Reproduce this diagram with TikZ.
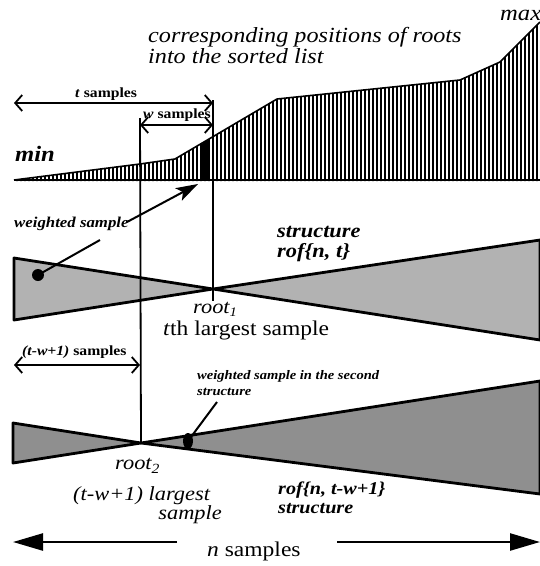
\documentclass[tikz,border=0pt]{standalone}
\usepackage{fontspec}
\setmainfont[FakeStretch=1.12]{Liberation Serif}
\usetikzlibrary{arrows.meta}
\begin{document}
\begin{tikzpicture}[x=1pt,y=-1pt,
  lbl/.style={inner sep=0pt, anchor=base west},
  lble/.style={inner sep=0pt, anchor=base east},
  outline/.style={line width=2.8pt, line join=round},
  fillA/.style={fill=black!30},
  fillB/.style={fill=black!44},
  vline/.style={line width=1.8pt},
  dim/.style={line width=1.8pt, {Straight Barb[length=7pt,width=16pt]}-{Straight Barb[length=7pt,width=16pt]}},
  bigarrow/.style={line width=2.4pt, -{Triangle[length=30pt,width=17pt]}},
  pointer/.style={line width=2pt, -{Stealth[length=22pt,width=14pt,inset=5pt]}},
  plain/.style={line width=2pt}]
\useasboundingbox (0,0) rectangle (540,566);

% ---------- top chart: sorted list ----------
\begin{scope}
  \clip (14,180) -- (140,164) -- (175,159) -- (277,99) -- (460,80) -- (500,62) -- (540,22) -- (540,181) -- (14,181) -- cycle;
  \foreach \x in {17,21,...,540} \draw[line width=1.8pt] (\x,0) -- (\x,182);
\end{scope}
\draw[line width=1.6pt, line join=round] (14,180) -- (140,164) -- (175,159) -- (277,99) -- (460,80) -- (500,62) -- (540,22);
\draw[line width=2.6pt] (14,180) -- (540,180);
\fill (200,180) -- (200,145) -- (208,140) -- (208,180) -- cycle;

% ---------- coordinates ----------
\coordinate (r1) at (213,289);
\coordinate (r2) at (141,443);
\coordinate (v1top) at (140,118);
\coordinate (v2top) at (213,100);
\coordinate (v2bot) at (213,301);
\coordinate (tl) at (14,103);  \coordinate (tr) at (213,103);
\coordinate (wl) at (140,125); \coordinate (wr) at (213,125);
\coordinate (ul) at (14,365);  \coordinate (ur) at (140,365);
\coordinate (nl) at (13,542);  \coordinate (nla) at (177,542);
\coordinate (nr) at (540,542); \coordinate (nra) at (337,542);
\coordinate (ws1) at (100,240); \coordinate (ws2) at (127,222); \coordinate (wstip) at (198,184);
\coordinate (ws3) at (217,402);

% ---------- middle bow-tie: rof(n,t) ----------
\filldraw[outline, fillA] (14,258) -- (14,320) -- (r1) -- cycle;
\filldraw[outline, fillA] (r1) -- (540,240) -- (540,340) -- cycle;

% ---------- bottom bow-tie: rof(n,t-w+1) ----------
\filldraw[outline, fillB] (13,423) -- (13,463) -- (r2) -- cycle;
\filldraw[outline, fillB] (r2) -- (540,381) -- (540,494) -- cycle;

% ---------- vertical markers ----------
\draw[vline] (v1top) -- (r2);
\draw[vline] (v2top) -- (v2bot);

% ---------- dimension arrows ----------
\draw[dim] (tl) -- (tr);
\draw[dim] (wl) -- (wr);
\draw[dim] (ul) -- (ur);
\draw[bigarrow] (nla) -- (nl);
\draw[bigarrow] (nra) -- (nr);

% ---------- weighted samples ----------
\fill (38,275) circle[radius=6pt] coordinate (dot1);
\draw[plain] (dot1) -- (ws1);
\draw[pointer] (ws2) -- (wstip);
\fill (188,441) ellipse[x radius=5pt, y radius=8pt] coordinate (dot2);
\draw[plain] (dot2) -- (ws3);

% ---------- labels ----------
\node[lbl] (title1) at (148,42) {\fontsize{21.6}{21.6}\selectfont\itshape corresponding positions of roots};
\node[lbl] (title2) at (148,63) {\fontsize{21.6}{21.6}\selectfont\itshape into the sorted list};
\node[lbl] (max) at (500,20) {\fontsize{22}{22}\selectfont\itshape max};
\node[lbl] (min) at (15,161) {\fontsize{22}{22}\selectfont\bfseries\itshape min};
\node[lbl] (tlab) at (75,97) {\fontsize{14}{14}\selectfont\bfseries\textit{t} samples};
\node[lbl] (wlab) at (143,118) {\fontsize{14}{14}\selectfont\bfseries\textit{w} samples};
\node[lbl] (wslab) at (14,227) {\fontsize{15}{15}\selectfont\bfseries\itshape weighted sample};
\node[lbl] (st1) at (277,237) {\fontsize{20}{20}\selectfont\bfseries\itshape structure};
\node[lbl] (rof1) at (277,257) {\fontsize{20}{20}\selectfont\bfseries\itshape rof\{n, t\}};
\node[lbl] (root1) at (193,313) {\fontsize{20}{20}\selectfont\itshape root\raisebox{-3pt}{\fontsize{13}{13}\selectfont 1}};
\node[lbl] (tth) at (163,335) {\fontsize{21}{21}\selectfont\textit{t}th largest sample};
\node[lbl] (twlab) at (22,355) {\fontsize{14}{14}\selectfont\bfseries\textit{(t-w+1)} samples};
\node[lbl] (ws2lab) at (197,379) {\fontsize{13}{13}\selectfont\bfseries\itshape weighted sample in the second};
\node[lbl] (ws2lab2) at (197,395) {\fontsize{13}{13}\selectfont\bfseries\itshape structure};
\node[lbl] (root2) at (115,469) {\fontsize{20}{20}\selectfont\itshape root\raisebox{-4pt}{\fontsize{14}{14}\selectfont 2}};
\node[lbl] (larg) at (73,500) {\fontsize{20}{20}\selectfont\itshape (t-w+1) largest};
\node[lble] (samp) at (222,519) {\fontsize{20}{20}\selectfont\itshape sample};
\node[lbl] (rof2) at (278,494) {\fontsize{18}{18}\selectfont\bfseries\itshape rof\{n, t-w+1\}};
\node[lbl] (st2) at (278,513) {\fontsize{18}{18}\selectfont\bfseries\itshape structure};
\node[lbl] (nlab) at (207,556) {\fontsize{21}{21}\selectfont\textit{n} samples};
\end{tikzpicture}
\end{document}
